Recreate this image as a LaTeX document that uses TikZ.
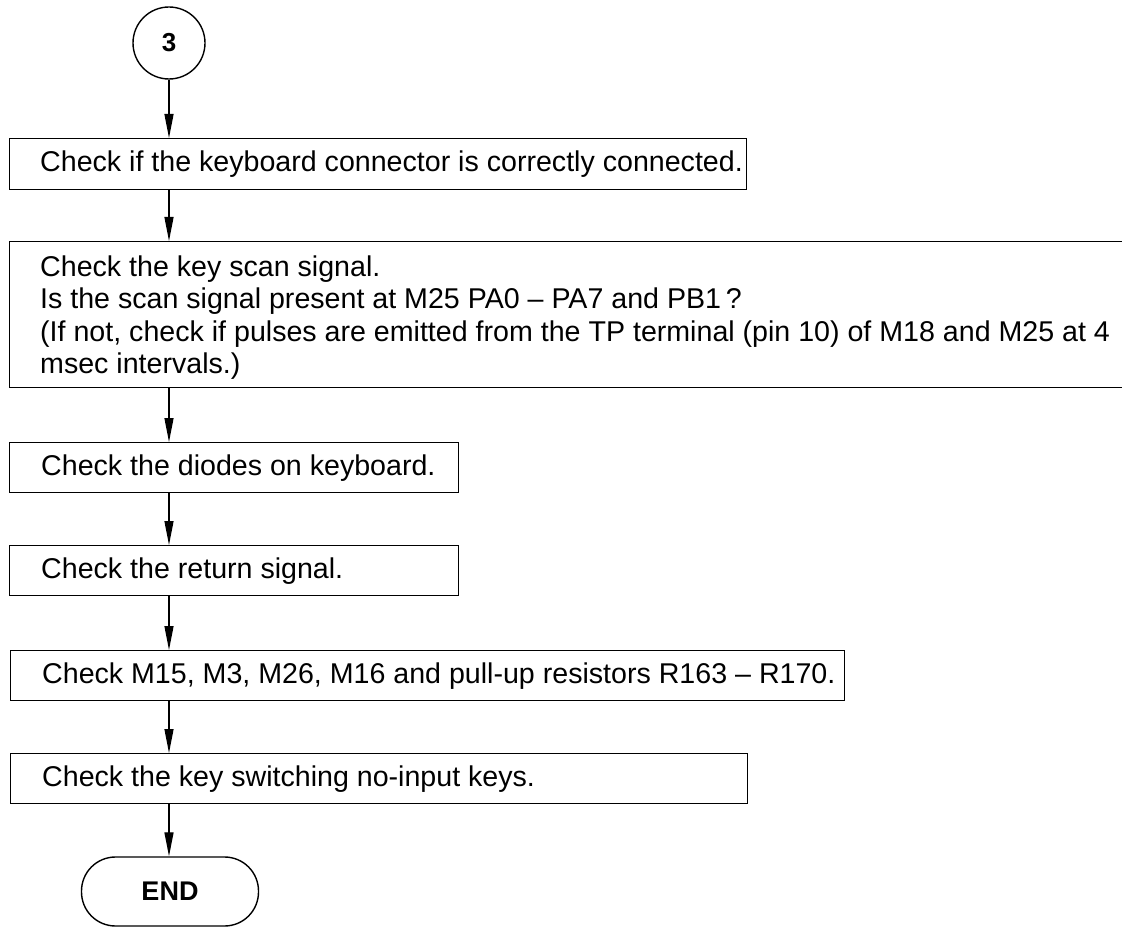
\documentclass[tikz,border=0pt]{standalone}
\usepackage{fontspec}
\setmainfont{Liberation Sans}
\usetikzlibrary{arrows.meta,shapes,positioning}

\begin{document}
\begin{tikzpicture}[x=1pt, y=-1pt,
    stepbox/.style={draw, line width=1.4pt, anchor=north west, inner sep=0pt},
    steptext/.style={anchor=west, inner sep=0pt, align=left,
                     font=\fontsize{28.6}{32.5}\selectfont},
    term/.style={draw, line width=1.4pt, rounded corners=34pt, minimum width=177pt,
                 minimum height=69pt, font=\fontsize{27}{30}\selectfont\bfseries},
    flow/.style={-{Triangle[length=24pt, width=9pt]}, line width=1.3pt},
  ]
    \useasboundingbox (0,0) rectangle (1122,928);
    \clip (0,0) rectangle (1122,928);
    % connector
    \node[draw, circle, line width=1.4pt, minimum size=72pt,
          font=\fontsize{26}{28}\selectfont\bfseries] (start) at (169,43) {3};
    % check steps
    \node[stepbox, minimum width=737pt, minimum height=51pt] (conn) at (9,138) {};
    \node[steptext] (conntxt) at ([xshift=31pt]conn.west)
      {Check if the keyboard connector is correctly connected.};
    \node[stepbox, minimum width=1140pt, minimum height=146pt] (scan) at (9,241) {};
    \node[steptext] (scantxt) at ([xshift=31pt, yshift=-3pt]scan.west)
      {Check the key scan signal.\\
       Is the scan signal present at M25 PA0 -- PA7 and PB1\,?\\
       (If not, check if pulses are emitted from the TP terminal (pin 10) of M18 and M25 at 4\\
       msec intervals.)};
    \node[stepbox, minimum width=449pt, minimum height=50pt] (diode) at (9,442) {};
    \node[steptext] (diodetxt) at ([xshift=32pt]diode.west)
      {Check the diodes on keyboard.};
    \node[stepbox, minimum width=449pt, minimum height=50pt] (ret) at (9,545) {};
    \node[steptext] (rettxt) at ([xshift=32pt]ret.west)
      {Check the return signal.};
    \node[stepbox, minimum width=834pt, minimum height=50pt] (pull) at (10,650) {};
    \node[steptext] (pulltxt) at ([xshift=32pt]pull.west)
      {Check M15, M3, M26, M16 and pull-up resistors R163 -- R170.};
    \node[stepbox, minimum width=737pt, minimum height=50pt] (keys) at (10,753) {};
    \node[steptext] (keystxt) at ([xshift=32pt]keys.west)
      {Check the key switching no-input keys.};
    % end
    \node[term] (stop) at (170,891.5) {END};
    % flow arrows
    \draw[flow] (start) -- (start |- conn.north);
    \foreach \a/\b in {conn/scan, scan/diode, diode/ret, ret/pull, pull/keys, keys/stop}
      \draw[flow] (\a.south -| start) -- (\b.north -| start);
  \end{tikzpicture}
\end{document}
